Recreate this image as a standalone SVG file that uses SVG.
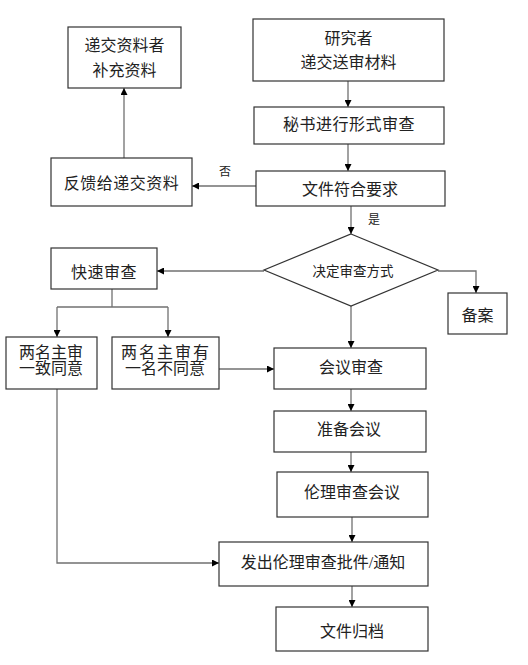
<svg xmlns="http://www.w3.org/2000/svg" width="528" height="665" viewBox="0 0 528 665">
<style>
.box{fill:#fff;stroke:#333;stroke-width:1.2}
.t{font-family:"Liberation Serif","Noto Sans CJK SC",serif;font-size:16px;fill:#222;text-anchor:middle;dominant-baseline:central}
.s{font-size:13.5px}
.l{font-size:12px}
.c{fill:none;stroke:#707070;stroke-width:1.3}
</style>
<defs>
<marker id="a" viewBox="0 0 10 10" refX="10" refY="5" markerWidth="7" markerHeight="7" markerUnits="userSpaceOnUse" orient="auto">
<path d="M0,0 L10,5 L0,10 z" fill="#000"/>
</marker>
</defs>
<rect width="528" height="665" fill="#fff"/>
<g id="connectors">
<path class="c" d="M348,81 V107" marker-end="url(#a)"/>
<path class="c" d="M348,144 V171" marker-end="url(#a)"/>
<path class="c" d="M256,186 H192" marker-end="url(#a)"/>
<path class="c" d="M124,158 V88" marker-end="url(#a)"/>
<path class="c" d="M351,206 V234" marker-end="url(#a)"/>
<path class="c" d="M264,271 H157" marker-end="url(#a)"/>
<path class="c" d="M438,271 H476 V293" marker-end="url(#a)"/>
<path class="c" d="M351,306 V348" marker-end="url(#a)"/>
<path class="c" d="M112,289 V307"/>
<path class="c" d="M57,307 H168"/>
<path class="c" d="M57,307 V337" marker-end="url(#a)"/>
<path class="c" d="M168,307 V337" marker-end="url(#a)"/>
<path class="c" d="M219,369 H274" marker-end="url(#a)"/>
<path class="c" d="M351,389 V411" marker-end="url(#a)"/>
<path class="c" d="M351,452 V472" marker-end="url(#a)"/>
<path class="c" d="M352,517 V542" marker-end="url(#a)"/>
<path class="c" d="M57,389 V563 H219" marker-end="url(#a)"/>
<path class="c" d="M352,586 V607" marker-end="url(#a)"/>
<text class="t l" x="225" y="172">否</text>
<text class="t l" x="374" y="220">是</text>
</g>
<g id="n_buchong"><rect class="box" x="68" y="27" width="113" height="61"/><text class="t" x="124.5" y="45">递交资料者</text><text class="t" x="124.5" y="70">补充资料</text></g>
<g id="n_yanjiu"><rect class="box" x="253" y="19" width="191" height="62"/><text class="t" x="348.5" y="38">研究者</text><text class="t" x="348.5" y="62">递交送审材料</text></g>
<g id="n_mishu"><rect class="box" x="254" y="107" width="190" height="37"/><text class="t" x="349" y="124" letter-spacing="0.5">秘书进行形式审查</text></g>
<g id="n_fuhe"><rect class="box" x="256" y="171" width="189" height="35"/><text class="t" x="350" y="189">文件符合要求</text></g>
<g id="n_fankui"><rect class="box" x="51" y="158" width="141" height="48"/><text class="t" x="121.5" y="183" letter-spacing="0.5">反馈给递交资料</text></g>
<g id="n_jueding"><polygon class="box" points="351,234 438,270 351,306 264,270"/><text class="t s" x="353" y="271">决定审查方式</text></g>
<g id="n_kuaisu"><rect class="box" x="51" y="248" width="106" height="41"/><text class="t" x="104" y="272" letter-spacing="0.5">快速审查</text></g>
<g id="n_beian"><rect class="box" x="448" y="293" width="59" height="41"/><text class="t" x="477.5" y="315">备案</text></g>
<g id="n_yizhi"><rect class="box" x="6" y="337" width="91" height="52"/><text class="t" x="51" y="352">两名主审</text><text class="t" x="51" y="368">一致同意</text></g>
<g id="n_butong"><rect class="box" x="112" y="337" width="107" height="52"/><text class="t" x="166" y="352" letter-spacing="2">两名主审有</text><text class="t" x="165" y="368">一名不同意</text></g>
<g id="n_huiyi"><rect class="box" x="274" y="348" width="152" height="41"/><text class="t" x="351" y="367">会议审查</text></g>
<g id="n_zhunbei"><rect class="box" x="274" y="411" width="152" height="41"/><text class="t" x="349" y="429">准备会议</text></g>
<g id="n_lunli"><rect class="box" x="277" y="472" width="151" height="45"/><text class="t" x="352" y="492">伦理审查会议</text></g>
<g id="n_fachu"><rect class="box" x="219" y="542" width="209" height="44"/><text class="t" x="323" y="562">发出伦理审查批件/通知</text></g>
<g id="n_guidang"><rect class="box" x="276" y="607" width="152" height="44"/><text class="t" x="352" y="631">文件归档</text></g>
</svg>
